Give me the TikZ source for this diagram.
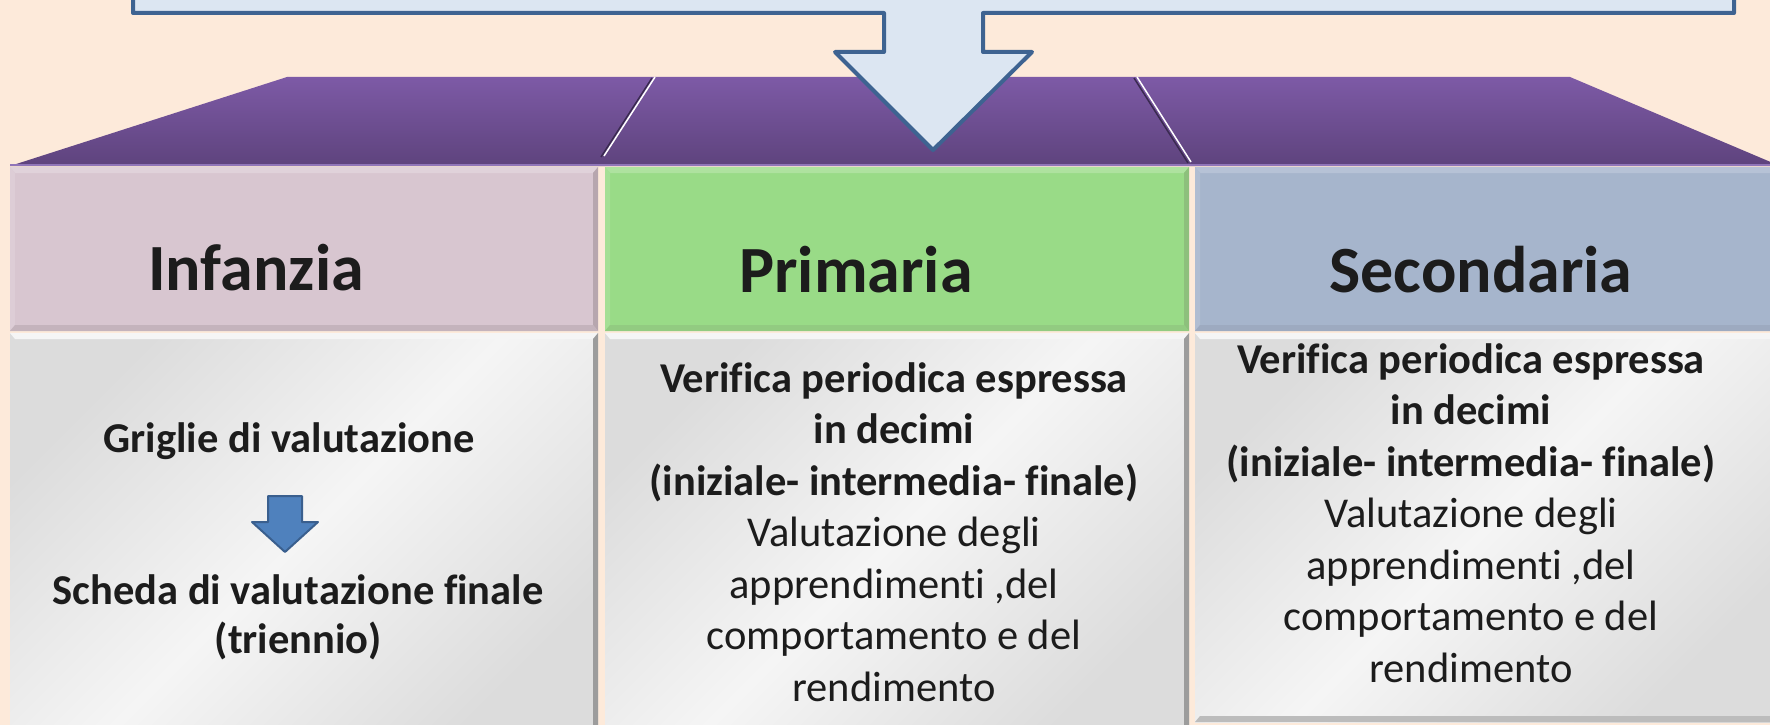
\documentclass[tikz,border=0pt]{standalone}
\usepackage{fontspec}
\setmainfont{Carlito}[Ligatures=NoCommon]
\usetikzlibrary{positioning}

\definecolor{peach}{HTML}{FDEADA}
\definecolor{callfill}{HTML}{DCE6F2}
\definecolor{callline}{HTML}{3E6391}
\definecolor{bandtop}{HTML}{7D5AA6}
\definecolor{bandbot}{HTML}{5E437D}
\definecolor{bandedge}{HTML}{9075B8}
\definecolor{bandshade}{HTML}{3A2A50}
\definecolor{infcol}{HTML}{D8C6D0}
\definecolor{inflite}{HTML}{E0D2DA}
\definecolor{infdark}{HTML}{B7A6AE}
\definecolor{primcol}{HTML}{99DB87}
\definecolor{primlite}{HTML}{AEE29F}
\definecolor{primdark}{HTML}{8DC07C}
\definecolor{seccol}{HTML}{A6B5CC}
\definecolor{seclite}{HTML}{B6C2D6}
\definecolor{secdark}{HTML}{97A3B7}
\definecolor{bodydark}{HTML}{DCDCDC}
\definecolor{bodylite}{HTML}{F5F5F5}
\definecolor{bodyedge}{HTML}{9C9C9C}
\definecolor{smallfill}{HTML}{4F81BD}
\definecolor{smallline}{HTML}{3A5F8E}
\definecolor{inktext}{HTML}{1C1C1C}

\begin{document}
\begin{tikzpicture}[x=1pt,y=-1pt,
    headtext/.style={anchor=base, inner sep=0pt, text=inktext,
      font=\bfseries\fontsize{66}{80}\selectfont},
    bodytext/.style={anchor=base, inner sep=0pt, align=center, text=inktext,
      font=\fontsize{42.5}{51.5}\selectfont},
    blockarrow/.style={line width=4pt, line join=round}]

  \useasboundingbox (0,0) rectangle (1770,725);
  \clip (0,0) rectangle (1770,725);
  \fill[peach] (0,0) rectangle (1770,725);

  % columns: header and body
  \foreach \xa/\xb/\yb/\base/\lite/\dark in
      {10/598/740/infcol/inflite/infdark,
       605/1189/740/primcol/primlite/primdark,
       1195/1780/722/seccol/seclite/secdark} {
    \fill[\base] (\xa,167) rectangle (\xb,331);
    \fill[\lite] (\xa,167) -- (\xb,167) -- (\xb-5,173) -- (\xa+5,173) -- cycle;
    \fill[\lite!60!\base] (\xa,167) -- (\xa+5,173) -- (\xa+5,325) -- (\xa,331) -- cycle;
    \fill[\dark] (\xb,167) -- (\xb,331) -- (\xb-5,325) -- (\xb-5,173) -- cycle;
    \fill[\dark!60!\base] (\xa,331) -- (\xb,331) -- (\xb-5,325) -- (\xa+5,325) -- cycle;
    \shade[top color=bodydark, bottom color=bodydark, middle color=bodylite,
      shading angle=45] (\xa,333) rectangle (\xb,\yb);
    \fill[white!70!bodydark] (\xa,333) -- (\xb,333) -- (\xb-5,339) -- (\xa+5,339) -- cycle;
    \fill[bodyedge] (\xb,333) -- (\xb,\yb) -- (\xb-5,\yb-6) -- (\xb-5,339) -- cycle;
    \fill[bodyedge!50!bodydark] (\xa,\yb) -- (\xb,\yb) -- (\xb-5,\yb-6) -- (\xa+5,\yb-6) -- cycle;
  }

  % purple band on top of the columns
  \shade[top color=bandtop, middle color=bandtop!85!bandbot, bottom color=bandbot]
    (10,166) -- (287,77) -- (1570,77) -- (1780,166) -- cycle;
  \draw[bandedge, line width=2pt] (10,165) -- (1770,165);
  \draw[bandshade, line width=1.5pt] (652,78) -- (601,157);
  \draw[white, line width=1.5pt] (655,77) -- (604,156);
  \draw[bandshade, line width=1.5pt] (1134,78) -- (1188,163);
  \draw[white, line width=1.5pt] (1137,77) -- (1191,162);

  % callout from the box above
  \filldraw[blockarrow, fill=callfill, draw=callline]
    (133,-20) -- (133,13) -- (884,13) -- (884,52) -- (835,52) -- (933,150)
    -- (1032,52) -- (983,52) -- (983,13) -- (1734,13) -- (1734,-20) -- cycle;

  \node[headtext] (infanzia) at (256,290) {Infanzia};
  \node[headtext] (primaria) at (856,292) {Primaria};
  \node[headtext] (secondaria) at (1481,292) {Secondaria};

  % base of a node with several lines is its last line
  \node[bodytext, font=\bfseries\fontsize{42.5}{48.5}\selectfont] (griglie) at (289,452)
    {Griglie di valutazione};
  \node[bodytext, font=\bfseries\fontsize{42.5}{48.5}\selectfont] (scheda) at (298,653)
    {Scheda di valutazione finale\\(triennio)};

  \filldraw[fill=smallfill, draw=smallline, line width=2pt, line join=round]
    (268,496) -- (302,496) -- (302,522) -- (318,522) -- (285,552)
    -- (252,522) -- (268,522) -- cycle;

  \node[bodytext] (verprim) at (894,701)
    {\textbf{Verifica periodica espressa}\\\textbf{in decimi}\\
     \textbf{(iniziale- intermedia- finale)}\\Valutazione degli\\
     apprendimenti ,del\\comportamento e del\\rendimento};
  \node[bodytext] (versec) at (1471,682)
    {\textbf{Verifica periodica espressa}\\\textbf{in decimi}\\
     \textbf{(iniziale- intermedia- finale)}\\Valutazione degli\\
     apprendimenti ,del\\comportamento e del\\rendimento};
\end{tikzpicture}
\end{document}
